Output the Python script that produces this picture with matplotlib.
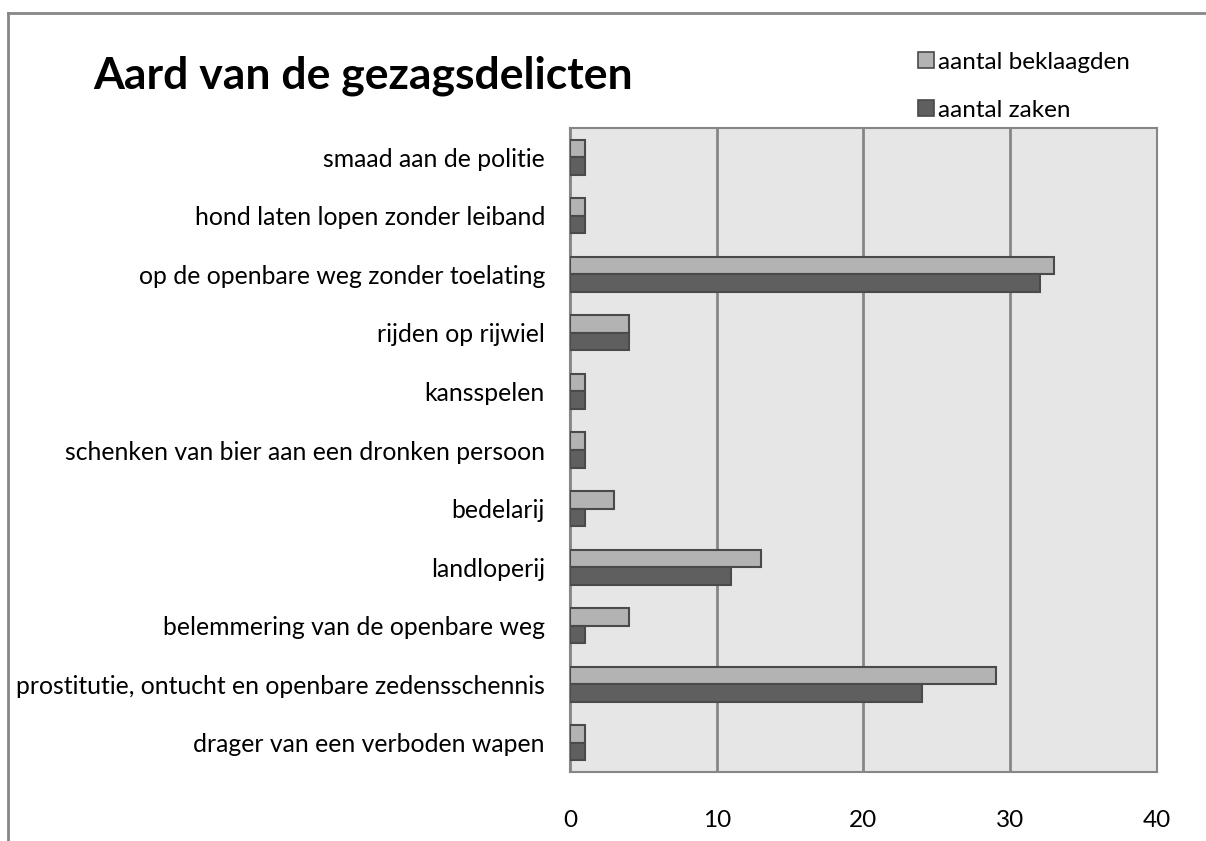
import numpy as np
import matplotlib
matplotlib.use("Agg")
import matplotlib.pyplot as plt
from matplotlib.lines import Line2D
from matplotlib.patches import Patch

plt.rcParams["font.family"] = ["Lato", "DejaVu Sans"]

categories = [
    "smaad aan de politie",
    "hond laten lopen zonder leiband",
    "op de openbare weg zonder toelating",
    "rijden op rijwiel",
    "kansspelen",
    "schenken van bier aan een dronken persoon",
    "bedelarij",
    "landloperij",
    "belemmering van de openbare weg",
    "prostitutie, ontucht en openbare zedensschennis",
    "drager van een verboden wapen",
]
beklaagden = [1, 1, 33, 4, 1, 1, 3, 13, 4, 29, 1]
zaken = [1, 1, 32, 4, 1, 1, 1, 11, 1, 24, 1]
xticks = [0, 10, 20, 30, 40]

LIGHT = "#b3b3b3"
DARK = "#5f5f5f"
EDGE = "#4a4a4a"
GRID = "#868686"

fig = plt.figure(figsize=(12.06, 8.41), dpi=100)
ax = fig.add_axes([0.4726, 0.082, 0.4868, 0.7658])
ax.set_facecolor("#e6e6e6")

y = np.arange(len(categories))[::-1].astype(float)
h = 0.3
ax.barh(y + h / 2, beklaagden, height=h, color=LIGHT, edgecolor=EDGE,
        linewidth=1.5, zorder=3)
ax.barh(y - h / 2, zaken, height=h, color=DARK, edgecolor=EDGE,
        linewidth=1.5, zorder=3)

ax.set_xlim(0, 40)
ax.set_ylim(-0.5, len(categories) - 0.5)
ax.set_xticks(xticks)
ax.set_xticklabels([str(t) for t in xticks], fontsize=17.5)
ax.set_yticks(y)
ax.set_yticklabels(categories, fontsize=17.8)
ax.tick_params(length=0, pad=27, axis="x")
ax.tick_params(length=0, pad=18, axis="y")
ax.xaxis.grid(True, color=GRID, linewidth=2, zorder=1)
for s in ax.spines.values():
    s.set_color(GRID)
    s.set_linewidth(1.5)

fig.text(0.077, 0.91, "Aard van de gezagsdelicten", fontsize=32,
         fontweight="bold", ha="left", va="center")

handles = [Patch(facecolor=LIGHT, edgecolor=EDGE, linewidth=1.2),
           Patch(facecolor=DARK, edgecolor=EDGE, linewidth=1.2)]
fig.legend(handles, ["aantal beklaagden", "aantal zaken"], loc="upper left",
           bbox_to_anchor=(0.753, 0.95), frameon=False, fontsize=17.5,
           handlelength=0.65, handleheight=0.65, handletextpad=0.2,
           labelspacing=1.1, borderaxespad=0)

# outer chart border (top and left)
fig.add_artist(Line2D([0.0066, 0.0066], [0.0, 0.985], color=GRID, linewidth=2,
                      transform=fig.transFigure))
fig.add_artist(Line2D([0.0066, 1.0], [0.985, 0.985], color=GRID, linewidth=2,
                      transform=fig.transFigure))

fig.savefig("out.png", dpi=100)
